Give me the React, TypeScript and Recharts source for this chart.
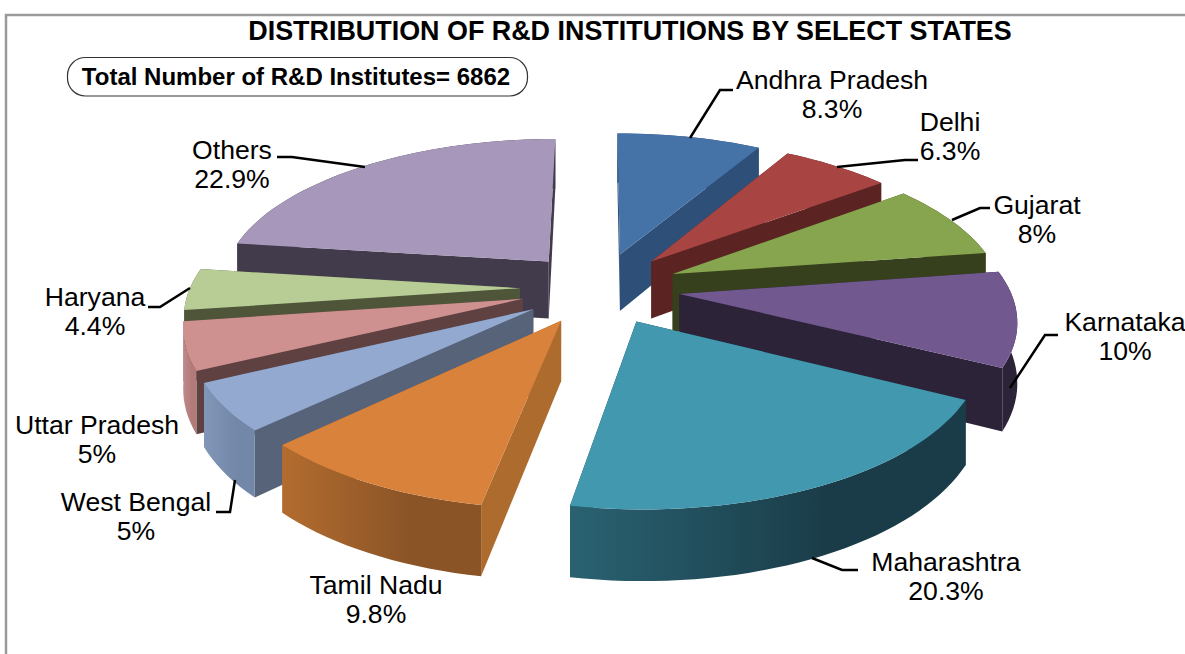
import React from 'react';
import { PieChart, Pie } from 'recharts';

const states = ['Andhra Pradesh','Delhi','Gujarat','Karnataka','Maharashtra','Tamil Nadu','West Bengal','Uttar Pradesh','Haryana','Others'];
const shares = [8.3,6.3,8,10,20.3,9.8,5,5,4.4,22.9];
const shareLabels = ['8.3%','6.3%','8%','10%','20.3%','9.8%','5%','5%','4.4%','22.9%'];
const topColors = ['#4572A7','#A84543','#87A44E','#71588F','#4198AF','#D9823B','#93A9CF','#CF9190','#B8CD96','#A798BB'];
const faceColors = ['#2D4F78','#5B2423','#37401C','#2D2339','#1A3C48','#AD6B2E','#566379','#5F4142','#4E5539','#423B4C'];
const wallStart = ['#2D4F78','#5B2423','#37401C','#2D2339','#2A6272','#B36C2F','#8296B7','#C08A89','#4E5539','#423B4C'];
const wallEnd = ['#2D4F78','#5B2423','#37401C','#2D2339','#1A3C48','#8A5427','#7388A8','#B27A79','#4E5539','#423B4C'];
const drawOrder = [9,0,1,2,8,3,7,6,5,4];

const labelCentres = [[832,80],[950,122],[1037,205],[1125,322],[946,562],[376,585],[136,502],[97,425],[95,297],[232,150]];
const leaders: (string|null)[] = ['690,138 720,90 733,90','837,167 905,160 918,160','952,220 980,208 990,208','1010,388 1045,335 1058,335','812,558 842,570 858,570',null,'235,480 230,512 216,512',null,'190,288 160,307 148,307','365,167 292,157 277,157'];

const data = states.map((name, i) => ({ name, value: shares[i] }));

const EXPLODE = 80, Q = 2190, SIN_E = 0.45, COS_E = 0.9, DEPTH = 65;

function makeShape(layer: number) {
  return (p: any) => {
    const idx = data.findIndex((d) => d.name === p.name || d.name === p.payload?.name);
    if (idx !== layer) return <g />;
    const { cx, cy, outerRadius: R, startAngle, endAngle } = p;
    const t0 = ((90 - startAngle) * Math.PI) / 180;
    const t1 = ((90 - endAngle) * Math.PI) / 180;
    const mid = (t0 + t1) / 2;
    const ax = EXPLODE * Math.sin(mid), ay = -EXPLODE * Math.cos(mid);
    const proj = (X: number, Y: number, Z: number): [number, number] => {
      const s = Q / (Q - Y);
      return [cx + X * s, cy + (Y * SIN_E - Z * COS_E) * s];
    };
    const rim = (t: number, z: number) => proj(ax + R * Math.sin(t), ay - R * Math.cos(t), z);
    const n = Math.max(2, Math.ceil(((t1 - t0) * 180) / Math.PI / 2));
    const ts = Array.from({ length: n + 1 }, (_, i) => t0 + ((t1 - t0) * i) / n);
    const path = (pts: [number, number][]) => 'M' + pts.map((q) => q[0].toFixed(1) + ' ' + q[1].toFixed(1)).join('L') + 'Z';
    const topRim = ts.map((t) => rim(t, 0));
    const botRim = ts.map((t) => rim(t, -DEPTH));
    const a0 = proj(ax, ay, 0), a1 = proj(ax, ay, -DEPTH);
    const xs = topRim.map((q) => q[0]);
    const gid = 'wall' + idx;
    const faceOf = (t: number) => path([a0, rim(t, 0), rim(t, -DEPTH), a1]);
    return (
      <g>
        <defs>
          <linearGradient id={gid} gradientUnits="userSpaceOnUse" x1={Math.min(...xs)} x2={Math.min(...xs) + (Math.max(...xs) - Math.min(...xs)) * 0.65} y1={0} y2={0}>
            <stop offset="0" stopColor={wallStart[idx]} />
            <stop offset="1" stopColor={wallEnd[idx]} />
          </linearGradient>
        </defs>
        <path d={faceOf(t0)} fill={faceColors[idx]} />
        <path d={faceOf(t1)} fill={faceColors[idx]} />
        <path d={path([...topRim, ...[...botRim].reverse()])} fill={`url(#${gid})`} />
        <path d={path([a0, ...topRim])} fill={topColors[idx]} />
      </g>
    );
  };
}

const FONT = '"Liberation Sans", Arial, sans-serif';

function renderLabel(p: any) {
  const i = p.index;
  const [x, y] = labelCentres[i];
  return (
    <g key={i}>
      {leaders[i] && <polyline points={leaders[i] as string} fill="none" stroke="#000" strokeWidth={2.5} />}
      <text x={x} y={y + 9} textAnchor="middle" fontFamily={FONT} fontSize={26.6} fill="#000">{states[i]}</text>
      <text x={x} y={y + 38} textAnchor="middle" fontFamily={FONT} fontSize={26.6} fill="#000">{shareLabels[i]}</text>
    </g>
  );
}

export default function App() {
  return (
    <div style={{ position: 'absolute', left: 0, top: 0, width: 1185, height: 654, background: '#fff', overflow: 'hidden' }}>
      <PieChart width={1185} height={654} margin={{ top: 0, right: 0, bottom: 0, left: 0 }}>
        <rect x={6} y={15} width={1300} height={800} fill="none" stroke="#9a9a9a" strokeWidth={2.5} />
        <text x={630} y={40} textAnchor="middle" fontFamily={FONT} fontWeight="bold" fontSize={26.9} fill="#000">DISTRIBUTION OF R&amp;D INSTITUTIONS BY SELECT STATES</text>
        <rect x={67.5} y={57.5} width={460} height={38.5} rx={18} fill="#fff" stroke="#333" strokeWidth={1.2} />
        <text x={296} y={85} textAnchor="middle" fontFamily={FONT} fontWeight="bold" fontSize={24} fill="#000">Total Number of R&amp;D Institutes= 6862</text>
        {drawOrder.map((layer, k) => (
          <Pie
            key={layer}
            data={data}
            dataKey="value"
            nameKey="name"
            cx={600}
            cy={288}
            outerRadius={330}
            startAngle={90}
            endAngle={-270}
            stroke="none"
            isAnimationActive={false}
            shape={makeShape(layer)}
            labelLine={false}
            label={k === drawOrder.length - 1 ? renderLabel : false}
          />
        ))}
      </PieChart>
    </div>
  );
}
